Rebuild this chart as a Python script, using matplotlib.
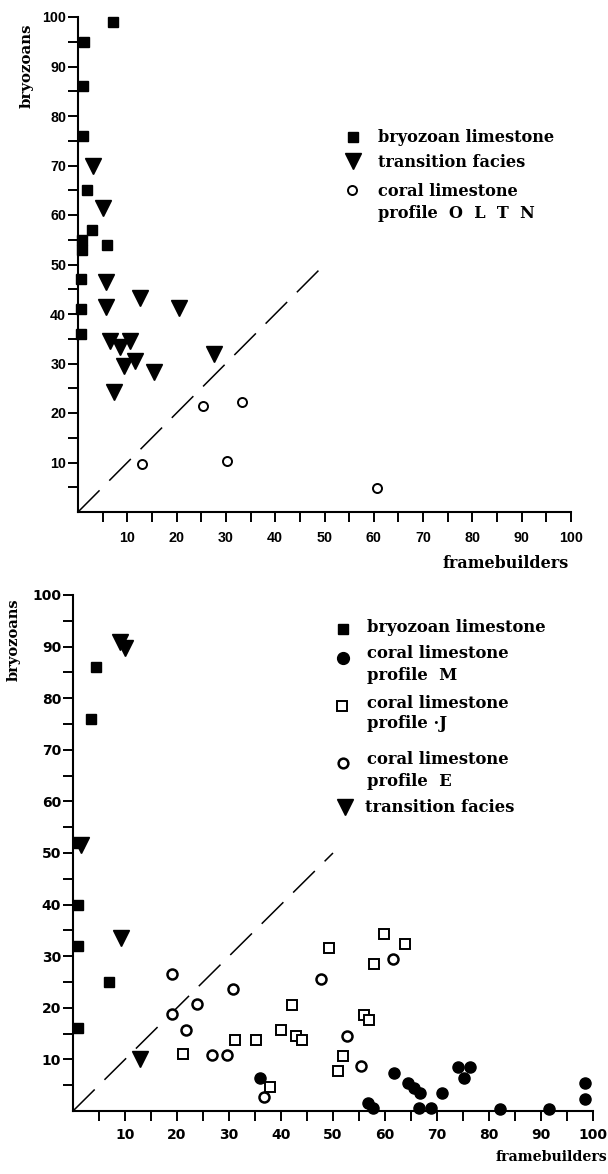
import matplotlib
matplotlib.use("Agg")
import matplotlib.pyplot as plt
from matplotlib.lines import Line2D

# ---------------- data: top panel ----------------
top_bryo_x = [7, 1.2, 1, 1, 1.8, 2.9, 5.8, 0.8, 0.8, 0.6, 0.6, 0.6]
top_bryo_y = [99, 95, 86, 76, 65, 57, 54, 55, 53, 47, 41, 36]
top_trans_x = [3, 5, 5.7, 5.6, 12.6, 20.5, 6.5, 8.5, 10.5, 9.4, 11.6, 15.4, 27.6, 7.3]
top_trans_y = [69.8, 61.5, 46.5, 41.5, 43.3, 41.2, 34.5, 33.4, 34.5, 29.5, 30.5, 28.3, 32, 24.3]
top_coral_x = [25.3, 33.3, 12.9, 30.2, 60.6]
top_coral_y = [21.5, 22.2, 9.6, 10.3, 4.9]

# ---------------- data: bottom panel ----------------
bot_bryo_x = [4.4, 3.5, 1, 1, 1, 7, 1]
bot_bryo_y = [86, 76, 52, 40, 32, 25, 16]
bot_trans_x = [9, 10, 1.5, 9.3, 12.9]
bot_trans_y = [90.8, 89.8, 51.6, 33.6, 10]
bot_M_x = [35.9, 61.7, 56.7, 57.7, 64.5, 65.6, 66.8, 66.6, 68.9, 71, 74.1, 76.3, 75.1, 82.2, 91.5, 98.5, 98.5]
bot_M_y = [6.4, 7.4, 1.5, 0.6, 5.4, 4.5, 3.5, 0.6, 0.6, 3.5, 8.5, 8.5, 6.4, 0.4, 0.4, 5.4, 2.3]
bot_J_x = [21.2, 31.1, 35.1, 37.8, 40, 42.1, 42.8, 44, 49.3, 50.9, 51.9, 59.9, 63.9, 57.9, 56, 57]
bot_J_y = [11.0, 13.8, 13.8, 4.7, 15.7, 20.5, 14.5, 13.8, 31.6, 7.8, 10.7, 34.3, 32.4, 28.5, 18.6, 17.6]
bot_E_x = [19.1, 19.1, 21.8, 23.9, 30.7, 26.8, 29.7, 36.7, 47.7, 61.6, 52.7, 55.4]
bot_E_y = [26.6, 18.8, 15.7, 20.7, 23.6, 10.9, 10.9, 2.7, 25.6, 29.5, 14.6, 8.7]

diag = [0, 50]
ticks_major = [10, 20, 30, 40, 50, 60, 70, 80, 90, 100]
ticks_minor = [5, 15, 25, 35, 45, 55, 65, 75, 85, 95]

W, H = 608, 1174
fig = plt.figure(figsize=(W / 100, H / 100), dpi=100)

serif = "DejaVu Serif"


def px(x, y):
    return x / W, 1 - y / H


def style_axes(ax, family, size, xpad):
    ax.set_xlim(0, 100)
    ax.set_ylim(0, 100)
    for s in ("top", "right"):
        ax.spines[s].set_visible(False)
    for s in ("left", "bottom"):
        ax.spines[s].set_linewidth(1.5)
    ax.set_xticks(ticks_major)
    ax.set_yticks(ticks_major)
    ax.set_xticks(ticks_minor, minor=True)
    ax.set_yticks(ticks_minor, minor=True)
    ax.tick_params(which="both", direction="out", length=7.5, width=1.4, color="black")
    ax.tick_params(axis="x", which="major", labelsize=size, pad=xpad)
    ax.tick_params(axis="y", which="major", labelsize=size, pad=1)
    for lab in ax.get_xticklabels() + ax.get_yticklabels():
        lab.set_fontfamily(family)
        lab.set_fontweight("bold")


dash = dict(color="black", lw=1.1, dashes=(20, 9), clip_on=False)

# ---------------- top axes ----------------
ax1 = fig.add_axes([78 / W, 1 - 512 / H, 493 / W, 495 / H])
style_axes(ax1, "Liberation Sans", 10.3, 6)
ax1.plot(diag, diag, **dash)
ax1.plot(top_bryo_x, top_bryo_y, "s", color="black", ms=6.5, clip_on=False, zorder=3)
ax1.plot(top_trans_x, top_trans_y, "v", color="black", ms=11.5, clip_on=False, zorder=3)
ax1.plot(top_coral_x, top_coral_y, "o", mfc="white", mec="black", mew=1.4, ms=6.5, clip_on=False, zorder=3)

fig.text(*px(27, 66), "bryozoans", rotation=90, ha="center", va="center",
         fontfamily=serif, fontweight="bold", fontsize=10.7)
fig.text(*px(506, 563), "framebuilders", ha="center", va="center",
         fontfamily=serif, fontweight="bold", fontsize=11.5)


def leg_marker(x, y, **kw):
    fig.add_artist(Line2D([x / W], [1 - y / H], linestyle="none", color="black", **kw))


def leg_text(x, y, s, size=11.6):
    fig.text(*px(x, y), s, ha="left", va="center", fontfamily=serif,
             fontweight="bold", fontsize=size)


leg_marker(353, 137, marker="s", ms=6.5)
leg_text(378, 137, "bryozoan limestone")
leg_marker(353, 161, marker="v", ms=12)
leg_text(378, 163, "transition facies")
leg_marker(352, 190, marker="o", mfc="white", mec="black", mew=1.4, ms=6.5)
leg_text(378, 192, "coral limestone")
leg_text(378, 214, "profile  O  L  T  N")

# ---------------- bottom axes ----------------
ax2 = fig.add_axes([73 / W, 1 - 1111 / H, 520 / W, 516 / H])
style_axes(ax2, "DejaVu Sans", 10, 5)
ax2.plot(diag, diag, **dash)
ax2.plot(bot_J_x, bot_J_y, "s", mfc="white", mec="black", mew=1.4, ms=7, clip_on=False, zorder=3)
ax2.plot(bot_E_x, bot_E_y, "o", mfc="white", mec="black", mew=1.8, ms=7.2, clip_on=False, zorder=3)
ax2.plot(bot_M_x, bot_M_y, "o", color="black", ms=8, clip_on=False, zorder=4)
ax2.plot(bot_bryo_x, bot_bryo_y, "s", color="black", ms=7.5, clip_on=False, zorder=4)
ax2.plot(bot_trans_x, bot_trans_y, "v", color="black", ms=11.5, clip_on=False, zorder=4)

fig.text(*px(14, 640), "bryozoans", rotation=90, ha="center", va="center",
         fontfamily=serif, fontweight="bold", fontsize=10.5)
fig.text(*px(551, 1157), "framebuilders", ha="center", va="center",
         fontfamily=serif, fontweight="bold", fontsize=10.2)

leg_marker(343, 629, marker="s", ms=7.5)
leg_text(367, 627, "bryozoan limestone", 11.8)
leg_marker(343, 658, marker="o", ms=8.5)
leg_text(367, 653, "coral limestone", 11.8)
leg_text(367, 675, "profile  M", 11.8)
leg_marker(342, 706, marker="s", mfc="white", mec="black", mew=1.4, ms=7)
leg_text(367, 703, "coral limestone", 11.8)
leg_text(367, 724, "profile \u00b7J", 11.8)
leg_marker(343, 763, marker="o", mfc="white", mec="black", mew=1.8, ms=7)
leg_text(367, 760, "coral limestone", 11.8)
leg_text(367, 781, "profile  E", 11.8)
leg_marker(345, 807, marker="v", ms=12)
leg_text(365, 808, "transition facies", 11.8)

fig.savefig("out.png", dpi=100)
